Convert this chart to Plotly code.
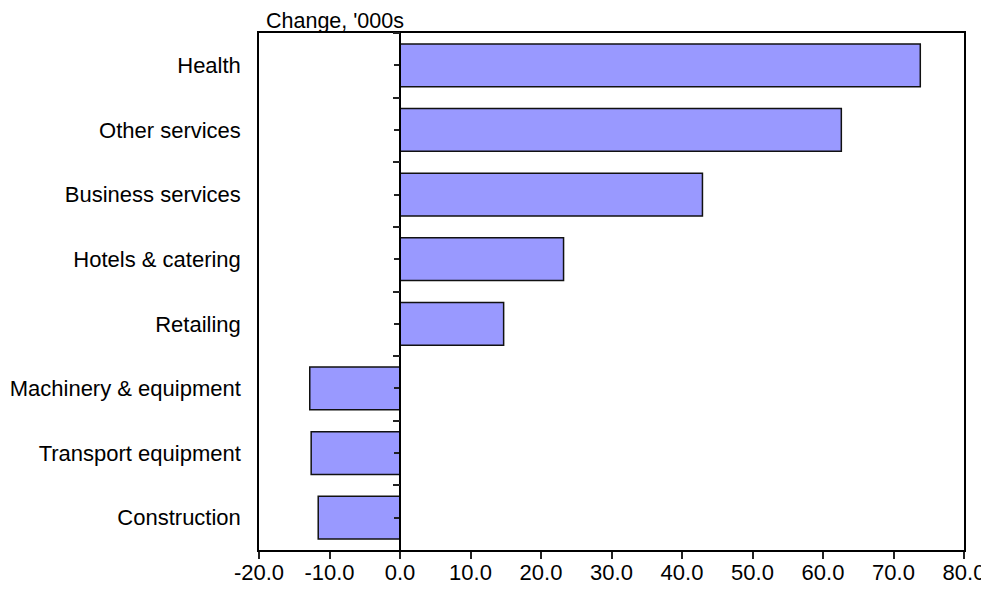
import plotly.graph_objects as go

# Employment change by sector, top to bottom as drawn
sectors = ['Health', 'Other services', 'Business services', 'Hotels & catering',
           'Retailing', 'Machinery & equipment', 'Transport equipment', 'Construction']
change = [73.8, 62.6, 42.9, 23.2, 14.7, -12.8, -12.6, -11.6]

x_range = [-20, 80]
x_ticks = [-20, -10, 0, 10, 20, 30, 40, 50, 60, 70, 80]
x_ticktext = ['%.1f' % v for v in x_ticks]

FONT = 'Liberation Sans, Arial, sans-serif'
BAR_COLOR = '#9999ff'

# where x=0 sits across the plot width, for the category axis on the zero line
zero_pos = (0 - x_range[0]) / (x_range[1] - x_range[0])
y_span = [len(sectors) - 0.5, -0.5]

# page body has an 8px margin, so the paper is offset; margins allow for it
PAGE_PAD = 8

fig = go.Figure()

fig.add_trace(go.Bar(
    x=change,
    y=sectors,
    orientation='h',
    marker=dict(color=BAR_COLOR, line=dict(color='#111111', width=1.5)),
    width=0.66,
    hoverinfo='x+y',
    showlegend=False
))

# invisible helpers so the zero-line category axes get their ticks
for ax in ['y2', 'y3']:
    fig.add_trace(go.Scatter(
        x=[0] * len(sectors), y=sectors, yaxis=ax,
        mode='markers', marker=dict(opacity=0),
        hoverinfo='skip', showlegend=False
    ))

fig.update_layout(
    width=989,
    height=594,
    margin=dict(l=259 - PAGE_PAD, r=25 + PAGE_PAD, t=33 - PAGE_PAD, b=44 + PAGE_PAD),
    paper_bgcolor='white',
    plot_bgcolor='white',
    font=dict(family=FONT, size=22, color='#000000'),
    xaxis=dict(
        range=x_range,
        tickvals=x_ticks,
        ticktext=x_ticktext,
        ticks='outside',
        ticklen=7,
        tickwidth=1.5,
        tickcolor='#222222',
        ticklabelstandoff=-5,
        showgrid=False,
        zeroline=False,
        showline=True,
        linecolor='#000000',
        linewidth=1.5,
        mirror=True,
        automargin=False,
        tickfont=dict(size=22),
        fixedrange=True
    ),
    yaxis=dict(
        type='category',
        categoryorder='array',
        categoryarray=sectors,
        range=y_span,
        ticks='',
        showgrid=False,
        zeroline=False,
        showline=True,
        linecolor='#000000',
        linewidth=1.5,
        mirror=True,
        automargin=False,
        ticklabelstandoff=12,
        tickfont=dict(size=22)
    ),
    yaxis2=dict(
        type='category',
        categoryorder='array',
        categoryarray=sectors,
        range=y_span,
        overlaying='y',
        anchor='free',
        position=zero_pos,
        side='left',
        ticks='outside',
        tickson='labels',
        ticklen=5,
        tickwidth=1.5,
        tickcolor='#222222',
        showticklabels=False,
        showgrid=False,
        zeroline=False,
        showline=True,
        linecolor='#000000',
        linewidth=1.5,
        automargin=False
    ),
    yaxis3=dict(
        type='category',
        categoryorder='array',
        categoryarray=sectors,
        range=y_span,
        overlaying='y',
        anchor='free',
        position=zero_pos,
        side='left',
        ticks='outside',
        tickson='boundaries',
        ticklen=7,
        tickwidth=1.5,
        tickcolor='#222222',
        showticklabels=False,
        showgrid=False,
        zeroline=False,
        showline=False,
        automargin=False
    ),
    annotations=[dict(
        text="Change, '000s",
        xref='paper', yref='paper',
        x=0, y=1,
        xanchor='left', yanchor='bottom',
        xshift=5, yshift=-2,
        showarrow=False,
        font=dict(family=FONT, size=21.5, color='#000000')
    )]
)

fig.write_html('out.html')
